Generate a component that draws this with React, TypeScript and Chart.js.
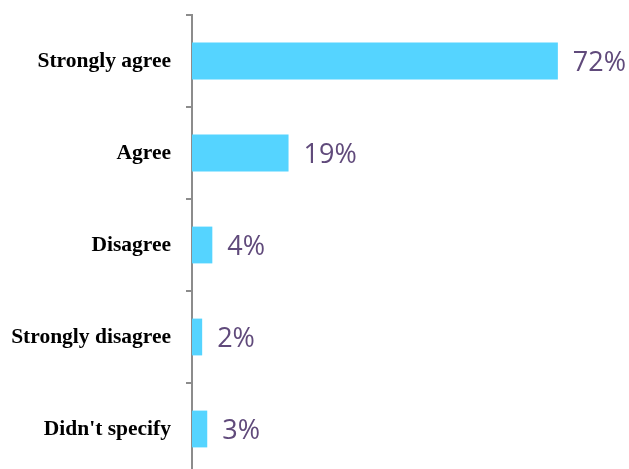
import React, { useEffect, useRef } from "react";
import { Chart, registerables } from "chart.js";

Chart.register(...registerables);

const categories = ["Strongly agree", "Agree", "Disagree", "Strongly disagree", "Didn't specify"];
const values = [72, 19, 4, 2, 3];
const valueLabels = ["72%", "19%", "4%", "2%", "3%"];

const labelPlugin = {
  id: "valueLabels",
  afterDatasetsDraw(chart: any) {
    const ctx = chart.ctx;
    const meta = chart.getDatasetMeta(0);
    ctx.save();
    ctx.font = "27px 'Open Sans'";
    ctx.fillStyle = "#604A7B";
    ctx.textAlign = "left";
    ctx.textBaseline = "middle";
    meta.data.forEach((el: any, i: number) => {
      ctx.fillText(valueLabels[i], el.x + 15, el.y + 2);
    });
    ctx.restore();
  },
};

export default function App() {
  const ref = useRef<HTMLCanvasElement>(null);
  useEffect(() => {
    if (!ref.current) return;
    const chart = new Chart(ref.current, {
      type: "bar",
      data: {
        labels: categories,
        datasets: [
          {
            data: values,
            backgroundColor: "#55D4FF",
            borderWidth: 0,
            barPercentage: 0.4,
            categoryPercentage: 1,
          },
        ],
      },
      options: {
        indexAxis: "y",
        responsive: false,
        animation: false,
        layout: { padding: { top: 15, right: 0, bottom: 0, left: 0 } },
        plugins: { legend: { display: false }, tooltip: { enabled: false } },
        scales: {
          x: { display: false, min: 0, max: 86 },
          y: {
            afterFit: (scale: any) => {
              scale.width = 192;
              scale.paddingTop = 0;
              scale.paddingBottom = 0;
            },
            border: { display: true, color: "#8C8C8C", width: 2 },
            grid: {
              drawOnChartArea: false,
              drawTicks: true,
              tickLength: 6,
              color: "#8C8C8C",
              lineWidth: 2,
            },
            ticks: {
              padding: 15,
              color: "#000000",
              font: { family: "'Liberation Serif', 'Times New Roman', serif", size: 21.5, weight: "bold" },
            },
          },
        },
      },
      plugins: [labelPlugin],
    });
    return () => chart.destroy();
  }, []);
  return (
    <div style={{ position: "fixed", left: 0, top: 0, width: 629, height: 469, overflow: "hidden", background: "#fff" }}>
      <canvas ref={ref} width={629} height={475} style={{ display: "block" }} />
    </div>
  );
}
